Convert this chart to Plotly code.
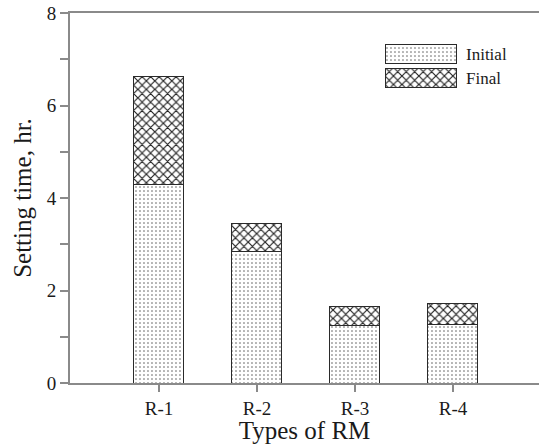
import plotly.graph_objects as go

# Setting times (hours) for each type of RM
categories = ["R-1", "R-2", "R-3", "R-4"]
initial_time = [4.30, 2.85, 1.24, 1.27]
final_time = [6.62, 3.45, 1.65, 1.71]
series_names = ["Initial", "Final"]
y_tick_values = [0, 1, 2, 3, 4, 5, 6, 7, 8]
y_tick_labels = ["0", "", "2", "", "4", "", "6", "", "8"]

# the Final segment sits on top of the Initial one
final_increment = [f - i for f, i in zip(final_time, initial_time)]

FONT = "Liberation Serif"
TEXT = "#1a1a1a"
AXIS = "#8a8a8a"
OUTLINE = "#2a2a2a"

dot_pattern = dict(shape=".", size=4, solidity=0.12, fgcolor="#555555",
                   bgcolor="white", fillmode="replace")
cross_pattern = dict(shape="x", size=6, solidity=0.35, fgcolor="#222222",
                     bgcolor="white", fillmode="replace")

fig = go.Figure()
fig.add_trace(go.Bar(
    x=categories, y=initial_time, name=series_names[0], width=0.51,
    marker=dict(color="white", pattern=dot_pattern,
                line=dict(color=OUTLINE, width=1)),
    showlegend=False,
))
fig.add_trace(go.Bar(
    x=categories, y=final_increment, name=series_names[1], width=0.51,
    marker=dict(color="white", pattern=cross_pattern,
                line=dict(color=OUTLINE, width=1)),
    showlegend=False,
))

# legend key: wide patterned swatches on a small inset axis
for name, pat in zip(series_names, [dot_pattern, cross_pattern]):
    fig.add_trace(go.Bar(
        x=[0.98], y=[name], orientation="h", width=0.78, name=name,
        base=0.01,
        marker=dict(color="white", pattern=pat,
                    line=dict(color=OUTLINE, width=1)),
        xaxis="x2", yaxis="y2", showlegend=False, hoverinfo="name",
    ))

fig.update_layout(
    width=539, height=444,
    margin=dict(l=70, r=0, t=13, b=61),
    paper_bgcolor="white", plot_bgcolor="white",
    barmode="stack",
    font=dict(family=FONT, color=TEXT, size=18),
    xaxis=dict(
        type="category", categoryorder="array", categoryarray=categories,
        range=[-0.908, 3.878],
        showline=True, linecolor=AXIS, linewidth=2, mirror=True,
        ticks="outside", ticklen=7, tickcolor=AXIS, tickwidth=1.5,
        showgrid=False, zeroline=False,
        tickfont=dict(size=19, family=FONT, color=TEXT),
        title=dict(text="Types of RM", font=dict(size=25, family=FONT, color=TEXT),
                   standoff=2),
    ),
    yaxis=dict(
        range=[0, 8],
        tickvals=y_tick_values, ticktext=y_tick_labels,
        showline=True, linecolor=AXIS, linewidth=2,
        ticks="outside", ticklen=8, tickcolor=AXIS, tickwidth=1.5,
        showgrid=False, zeroline=False,
        tickfont=dict(size=19, family=FONT, color=TEXT),
        title=dict(text="Setting time, hr.", font=dict(size=25, family=FONT, color=TEXT),
                   standoff=8),
    ),
    xaxis2=dict(domain=[0.6716, 0.8252], anchor="y2", range=[0, 1],
                showline=False, showgrid=False, zeroline=False,
                showticklabels=False, ticks="", fixedrange=True),
    yaxis2=dict(domain=[0.7919, 0.9216], anchor="x2", type="category",
                categoryorder="array", categoryarray=list(reversed(series_names)),
                range=[-0.5, 1.5], side="right",
                showline=False, showgrid=False, zeroline=False, ticks="",
                ticklabelstandoff=8,
                tickfont=dict(size=17, family=FONT, color=TEXT), fixedrange=True),
    showlegend=False,
)

fig.write_html("out.html")
